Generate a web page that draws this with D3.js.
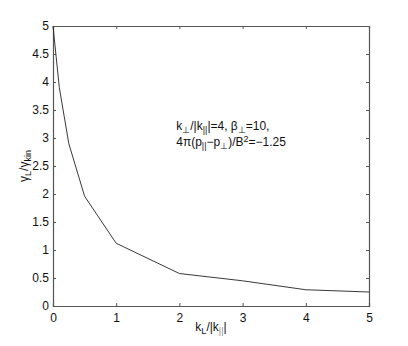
<!DOCTYPE html>
<html>
<head>
<meta charset="utf-8">
<script src="https://cdn.jsdelivr.net/npm/d3@7"></script>
<style>
  body { margin: 0; background: #fff; }
  text { font-family: "Liberation Sans", Arial, Helvetica, sans-serif; }
</style>
</head>
<body>
<script>
// set the dimensions and margins of the graph
var margin = {top: 26, right: 39, bottom: 40, left: 53},
    width = 408 - margin.left - margin.right,
    height = 346 - margin.top - margin.bottom;

// data
var kRatio = [0, 0.05, 0.1, 0.25, 0.5, 1, 2, 3, 4, 5];
var gammaRatio = [5, 4.45, 3.9, 2.9, 1.96, 1.12, 0.58, 0.45, 0.29, 0.25];
var xTicks = [0, 1, 2, 3, 4, 5];
var yTicks = [0, 0.5, 1, 1.5, 2, 2.5, 3, 3.5, 4, 4.5, 5];

var x = d3.scaleLinear().domain([0, 5]).range([0, width]);
var y = d3.scaleLinear().domain([0, 5]).range([height, 0]);

var svg = d3.select("body").append("svg")
    .attr("width", 408)
    .attr("height", 346)
    .append("g")
    .attr("transform", "translate(" + margin.left + "," + margin.top + ")");

var fmt = function(d) { return String(d); };

// bottom axis (ticks inward)
var gx = svg.append("g")
    .attr("transform", "translate(0," + height + ")")
    .call(d3.axisBottom(x).tickValues(xTicks).tickSize(-3).tickPadding(7).tickFormat(fmt));
// top axis, ticks only
var gxt = svg.append("g")
    .call(d3.axisTop(x).tickValues(xTicks).tickSize(-3).tickFormat(""));
// left axis
var gy = svg.append("g")
    .call(d3.axisLeft(y).tickValues(yTicks).tickSize(-3).tickPadding(4).tickFormat(fmt));
// right axis, ticks only
var gyr = svg.append("g")
    .attr("transform", "translate(" + width + ",0)")
    .call(d3.axisRight(y).tickValues(yTicks).tickSize(-3).tickFormat(""));

[gx, gxt, gy, gyr].forEach(function(g) {
    g.select(".domain").attr("stroke", "#555").attr("stroke-width", 1.2);
    g.selectAll(".tick line").attr("stroke", "#555");
    g.selectAll(".tick text").attr("fill", "#111").style("font-size", "12px")
        .style("font-family", "'Liberation Sans', Arial, sans-serif");
});

// the curve
var line = d3.line()
    .x(function(d, i) { return x(kRatio[i]); })
    .y(function(d) { return y(d); });

svg.append("path")
    .datum(gammaRatio)
    .attr("fill", "none")
    .attr("stroke", "#222")
    .attr("stroke-width", 0.9)
    .attr("d", line);

// helper for text with sub/superscripts
function richText(sel, parts) {
    parts.forEach(function(p) {
        var t = sel.append("tspan").text(p.t);
        if (p.sub) t.attr("baseline-shift", "-30%").style("font-size", "9px");
        if (p.sup) t.attr("baseline-shift", "50%").style("font-size", "9px");
        if (p.gray) t.attr("fill", "#888");
    });
}

// annotation
var ann1 = svg.append("text")
    .attr("x", x(1.95))
    .attr("y", y(3.15))
    .style("font-size", "12px")
    .attr("fill", "#111");
richText(ann1, [
    {t: "k"}, {t: "⊥", sub: true}, {t: "/|k"}, {t: "||", sub: true},
    {t: "|=4, β"}, {t: "⊥", sub: true}, {t: "=10,"}
]);

var ann2 = svg.append("text")
    .attr("x", x(1.95))
    .attr("y", y(2.86))
    .style("font-size", "12px")
    .attr("fill", "#111");
richText(ann2, [
    {t: "4π(p"}, {t: "||", sub: true}, {t: "−p"}, {t: "⊥", sub: true},
    {t: ")/B"}, {t: "2", sup: true}, {t: "=−1.25"}
]);

// x label
var xl = svg.append("text")
    .attr("x", width / 2)
    .attr("y", height + 25)
    .attr("text-anchor", "middle")
    .style("font-size", "12px")
    .attr("fill", "#111");
richText(xl, [{t: "k"}, {t: "L", sub: true}, {t: "/|k"}, {t: "||", sub: true, gray: true}, {t: "|"}]);

// y label
var yl = svg.append("text")
    .attr("transform", "translate(-25," + (height / 2) + ") rotate(-90)")
    .attr("text-anchor", "middle")
    .style("font-size", "12px")
    .attr("fill", "#111");
richText(yl, [{t: "γ"}, {t: "L", sub: true}, {t: "/γ"}, {t: "kin", sub: true}]);
</script>
</body>
</html>
